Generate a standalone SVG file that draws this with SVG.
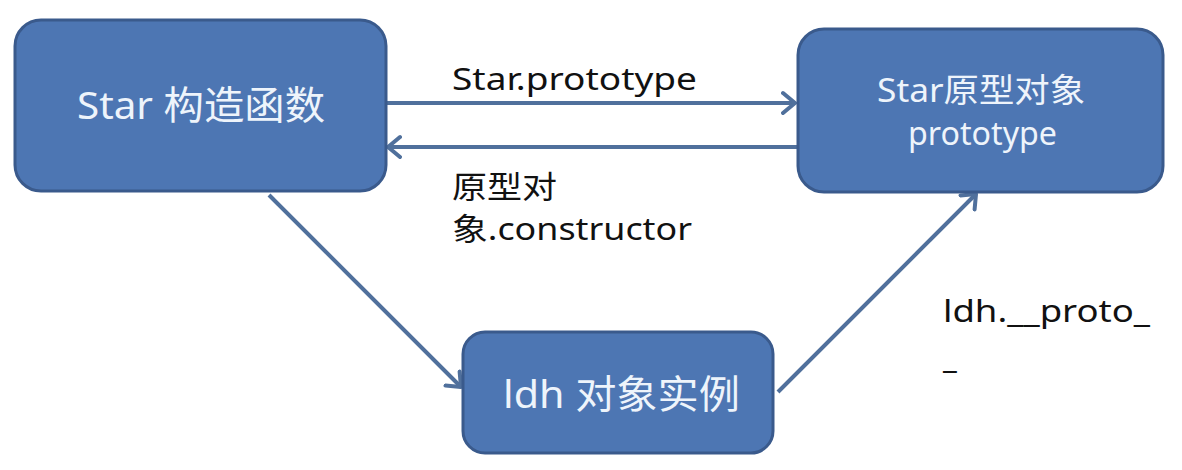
<svg xmlns="http://www.w3.org/2000/svg" width="1182" height="470" viewBox="0 0 1182 470">
<defs>
<style>
.node{fill:#4d76b3;stroke:#3a5a8c;stroke-width:3}
.nt{fill:#eef4fb;font-family:"Noto Sans","Noto Sans CJK SC",sans-serif}
.lbl{fill:#111;font-family:"Noto Sans","Noto Sans CJK SC",sans-serif;font-size:31px}
.con{stroke:#50709c;stroke-width:4;fill:none}
</style>
<marker id="ah" markerUnits="userSpaceOnUse" markerWidth="30" markerHeight="30" refX="14" refY="12" orient="auto" viewBox="0 0 30 24">
<path d="M2,2 L14,12 L2,22" fill="none" stroke="#50709c" stroke-width="4" stroke-linecap="round" stroke-linejoin="round"/>
</marker>
</defs>
<rect width="1182" height="470" fill="#ffffff"/>
<g id="connectors">
<line class="con" x1="387" y1="103" x2="795" y2="103" marker-end="url(#ah)"/>
<line class="con" x1="798" y1="147" x2="388" y2="147" marker-end="url(#ah)"/>
<line class="con" x1="269" y1="195" x2="461" y2="387" marker-end="url(#ah)"/>
<line class="con" x1="778" y1="392" x2="976" y2="194" marker-end="url(#ah)"/>
</g>
<g id="node-star">
<rect class="node" x="15" y="20" width="371" height="171" rx="26"/>
<text class="nt" x="77" y="119" font-size="39" textLength="248" lengthAdjust="spacingAndGlyphs">Star 构造函数</text>
</g>
<g id="node-prototype">
<rect class="node" x="798" y="29" width="365" height="163" rx="26"/>
<text class="nt" x="877" y="102" font-size="33" textLength="208" lengthAdjust="spacingAndGlyphs">Star原型对象</text>
<text class="nt" x="908" y="145" font-size="32" textLength="149" lengthAdjust="spacingAndGlyphs">prototype</text>
</g>
<g id="node-ldh">
<rect class="node" x="463" y="332" width="310" height="121" rx="22"/>
<text class="nt" x="503" y="408" font-size="39" textLength="237" lengthAdjust="spacingAndGlyphs">ldh 对象实例</text>
</g>
<g id="labels">
<text class="lbl" x="452" y="90" textLength="245" lengthAdjust="spacingAndGlyphs">Star.prototype</text>
<text class="lbl" x="452" y="198" textLength="105" lengthAdjust="spacingAndGlyphs">原型对</text>
<text class="lbl" x="452" y="240" textLength="240" lengthAdjust="spacingAndGlyphs">象.constructor</text>
<text class="lbl" x="943" y="322" textLength="207" lengthAdjust="spacingAndGlyphs">ldh.__proto_</text>
<text class="lbl" x="943" y="368">_</text>
</g>
</svg>
